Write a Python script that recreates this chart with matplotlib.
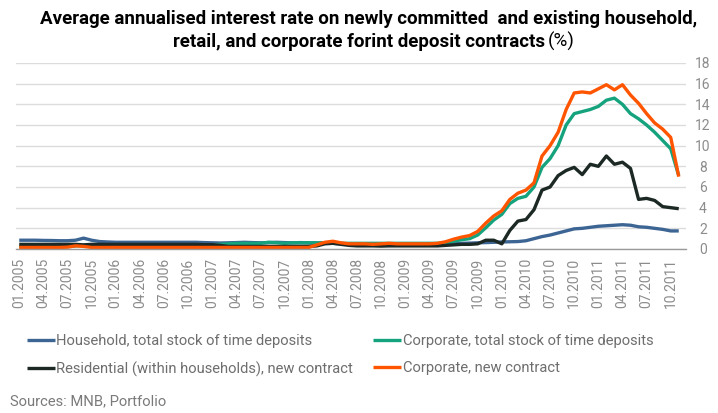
"""
Forint deposit rates chart - MNB / Portfolio
"""

import matplotlib
matplotlib.use('Agg')
import matplotlib.pyplot as plt
import pandas as pd

# months 01.2005 - 11.2011
months = pd.date_range('2005-01-01', periods=83, freq='MS')

# Household, total stock of time deposits
household_stock = [
    0.85, 0.85, 0.85, 0.83, 0.82, 0.80, 0.80, 0.85, 1.05, 0.85, 0.72, 0.68,
    0.65, 0.65, 0.65, 0.65, 0.65, 0.65, 0.65, 0.65, 0.65, 0.65, 0.65, 0.62,
    0.60, 0.58, 0.60, 0.62, 0.65, 0.62, 0.60, 0.62, 0.65, 0.62, 0.60, 0.62,
    0.60, 0.58, 0.55, 0.55, 0.50, 0.50, 0.50, 0.50, 0.50, 0.50, 0.50, 0.50,
    0.50, 0.50, 0.50, 0.50, 0.50, 0.50, 0.52, 0.55, 0.57, 0.60, 0.62, 0.65,
    0.68, 0.70, 0.72, 0.80, 1.00, 1.20, 1.35, 1.55, 1.75, 1.95, 2.00, 2.10,
    2.20, 2.25, 2.30, 2.35, 2.30, 2.15, 2.10, 2.00, 1.90, 1.75, 1.75,
]

# Corporate, total stock of time deposits
corporate_stock = [
    0.20, 0.20, 0.20, 0.20, 0.20, 0.20, 0.22, 0.30, 0.35, 0.25, 0.22, 0.22,
    0.22, 0.22, 0.22, 0.22, 0.30, 0.30, 0.30, 0.30, 0.30, 0.30, 0.30, 0.35,
    0.40, 0.45, 0.50, 0.55, 0.55, 0.55, 0.55, 0.65, 0.60, 0.55, 0.60, 0.60,
    0.60, 0.60, 0.60, 0.60, 0.55, 0.55, 0.55, 0.55, 0.55, 0.55, 0.55, 0.55,
    0.55, 0.55, 0.55, 0.55, 0.55, 0.60, 0.75, 0.90, 1.00, 1.35, 2.05, 2.80,
    3.35, 4.40, 4.90, 5.10, 6.00, 7.90, 8.75, 10.0, 12.0, 13.1, 13.3, 13.5,
    13.8, 14.4, 14.6, 14.0, 13.1, 12.6, 12.0, 11.3, 10.5, 9.7, 7.1,
]

# Residential (within households), new contract
residential_new = [
    0.45, 0.45, 0.45, 0.45, 0.45, 0.45, 0.45, 0.45, 0.40, 0.45, 0.45, 0.45,
    0.45, 0.45, 0.45, 0.45, 0.45, 0.45, 0.45, 0.45, 0.45, 0.45, 0.45, 0.42,
    0.42, 0.35, 0.25, 0.25, 0.25, 0.25, 0.25, 0.25, 0.25, 0.25, 0.25, 0.25,
    0.25, 0.30, 0.50, 0.55, 0.45, 0.35, 0.30, 0.30, 0.30, 0.28, 0.30, 0.30,
    0.30, 0.30, 0.30, 0.30, 0.30, 0.35, 0.40, 0.45, 0.45, 0.50, 0.85, 0.85,
    0.50, 1.80, 2.70, 2.85, 3.80, 5.70, 6.00, 7.10, 7.60, 7.90, 7.20, 8.20,
    8.00, 9.00, 8.20, 8.40, 7.80, 4.80, 4.90, 4.70, 4.10, 4.00, 3.90,
]

# Corporate, new contract
corporate_new = [
    0.15, 0.15, 0.15, 0.15, 0.15, 0.15, 0.18, 0.30, 0.25, 0.15, 0.15, 0.15,
    0.15, 0.15, 0.15, 0.15, 0.15, 0.15, 0.15, 0.15, 0.15, 0.15, 0.15, 0.15,
    0.15, 0.15, 0.15, 0.15, 0.15, 0.15, 0.15, 0.15, 0.15, 0.15, 0.15, 0.15,
    0.15, 0.40, 0.65, 0.75, 0.60, 0.50, 0.50, 0.50, 0.45, 0.50, 0.55, 0.50,
    0.50, 0.50, 0.50, 0.50, 0.55, 0.70, 0.95, 1.15, 1.30, 1.70, 2.50, 3.20,
    3.70, 4.80, 5.40, 5.70, 6.40, 9.00, 10.0, 11.3, 13.5, 15.1, 15.2, 15.1,
    15.5, 15.9, 15.4, 15.9, 14.9, 14.1, 13.1, 12.2, 11.6, 10.8, 7.0,
]

series_labels = [
    'Household, total stock of time deposits',
    'Corporate, total stock of time deposits',
    'Residential (within households), new contract',
    'Corporate, new contract',
]
series_colors = ['#3d6594', '#15a37e', '#1c2824', '#ff5500']

FONT = ['Roboto', 'DejaVu Sans']
TICK_GRAY = '#8c8c8c'

W, H = 718, 413
fig = plt.figure(figsize=(W / 100, H / 100), dpi=100)
ax = fig.add_axes([16 / W, 1 - 249 / H, (686 - 16) / W, (249 - 63) / H])

x = list(range(len(months)))
handles = []
for vals, lbl, col in zip([household_stock, corporate_stock, residential_new, corporate_new],
                          series_labels, series_colors):
    ln, = ax.plot(x, vals, color=col, linewidth=2.4, label=lbl,
                  solid_joinstyle='round', solid_capstyle='butt')
    handles.append(ln)

ax.set_xlim(-0.4, 82.9)
ax.set_ylim(0, 18)

# grid / spines
ax.set_yticks(range(0, 19, 2))
ax.yaxis.grid(True, color='#dcdcdc', linewidth=1)
ax.set_axisbelow(True)
for s in ['top', 'left', 'right']:
    ax.spines[s].set_visible(False)
ax.spines['bottom'].set_color('#9a9a9a')
ax.spines['bottom'].set_linewidth(1)

# y ticks on right, centred
ax.yaxis.tick_right()
ax.tick_params(axis='y', length=0, pad=12.2, labelsize=10, labelcolor=TICK_GRAY)
for t in ax.get_yticklabels():
    t.set_horizontalalignment('center')
    t.set_fontfamily(FONT)

# x ticks every quarter
tick_pos = x[::3]
ax.set_xticks(tick_pos)
ax.set_xticklabels([months[i].strftime('%m.%Y') for i in tick_pos],
                   rotation=90, fontsize=10, color=TICK_GRAY, family=FONT)
ax.tick_params(axis='x', length=0, pad=6.5)

# title
fig.text(369 / W, 1 - 24 / H,
         'Average annualised interest rate on newly committed  and existing household,',
         ha='center', va='baseline', fontsize=13.5, fontweight='bold', family=FONT)
fig.text(545 / W, 1 - 47 / H, 'retail, and corporate forint deposit contracts',
         ha='right', va='baseline', fontsize=13.5, fontweight='bold', family=FONT)
fig.text(548 / W, 1 - 47 / H, '(%)',
         ha='left', va='baseline', fontsize=13.5, family=FONT)

# legend, filled row by row (household, corporate stock / residential, corporate new)
order = [0, 2, 1, 3]
leg = fig.legend([handles[i] for i in order], [series_labels[i] for i in order],
                 loc='upper left', bbox_to_anchor=(27 / W, 1 - 334 / H), ncol=2,
                 frameon=False, borderpad=0, borderaxespad=0,
                 handlelength=1.9, handletextpad=0.1, columnspacing=1.35,
                 labelspacing=0.9, prop={'family': FONT, 'size': 10.6})
for t in leg.get_texts():
    t.set_color('#6e6e6e')
for l in leg.get_lines():
    l.set_linewidth(2.4)

fig.text(10 / W, 1 - 405 / H, 'Sources: MNB, Portfolio', ha='left', va='baseline',
         fontsize=10.6, color='#7a7a7a', family=FONT)

fig.savefig('out.png', dpi=100)
